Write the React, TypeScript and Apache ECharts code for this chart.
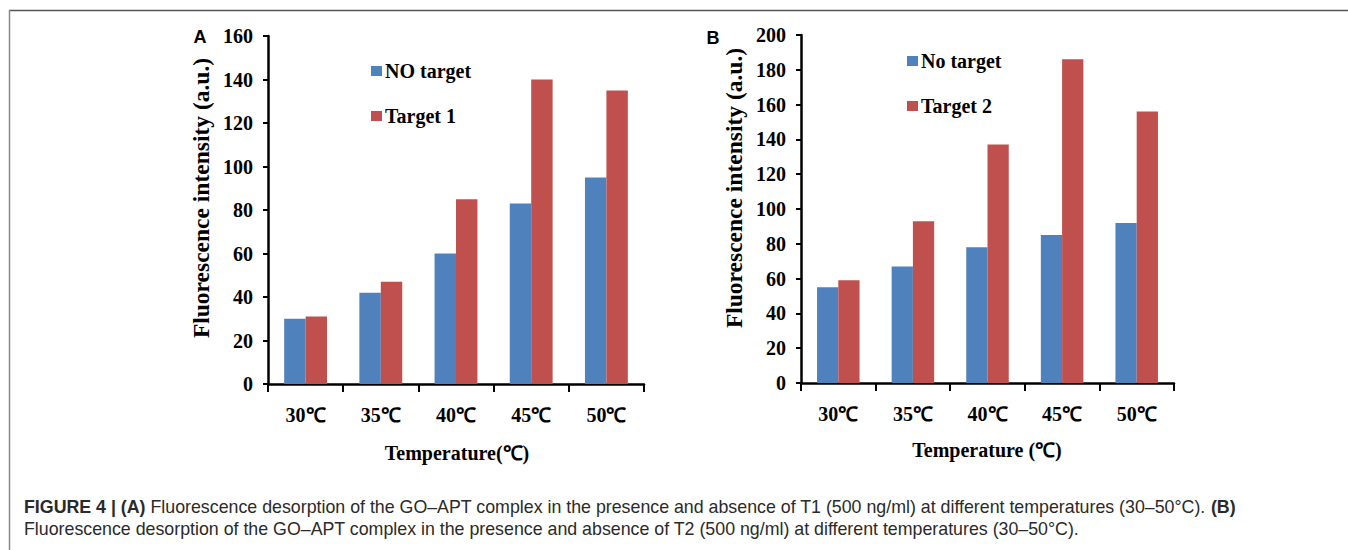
import React, { useEffect, useRef } from "react";
import * as echarts from "echarts";

const categories = ["30℃", "35℃", "40℃", "45℃", "50℃"];
const noTargetA = [30, 42, 60, 83, 95];
const target1 = [31, 47, 85, 140, 135];
const noTargetB = [55, 67, 78, 85, 92];
const target2 = [59, 93, 137, 186, 156];

const BLUE = "#4F81BD";
const RED = "#C0504D";
const SERIF = "'Liberation Serif', 'Times New Roman', serif";
const SANS = "'Liberation Sans', Arial, sans-serif";

export default function App() {
  const ref = useRef<HTMLDivElement>(null);
  useEffect(() => {
    document.body.style.margin = "0";
    const chart = echarts.init(ref.current!, null, { renderer: "svg" });
    const axisLine = { show: true, lineStyle: { color: "#000", width: 2.5 } };
    const xAxisCommon = {
      type: "category" as const,
      data: categories,
      axisLine,
      axisTick: { show: true, length: 8, lineStyle: { color: "#000", width: 2 } },
      axisLabel: { color: "#000", fontFamily: SERIF, fontWeight: "bold", fontSize: 20, margin: 21 },
      splitLine: { show: false },
    };
    const yAxisCommon = {
      type: "value" as const,
      min: 0,
      interval: 20,
      axisLine,
      axisTick: { show: true, length: 5, lineStyle: { color: "#000", width: 2 } },
      axisLabel: { color: "#000", fontFamily: SERIF, fontWeight: "bold", fontSize: 20, margin: 15 },
      splitLine: { show: false },
    };
    const barCommon = {
      type: "bar" as const,
      barGap: "0%",
      barCategoryGap: "43%",
    };
    const legendCommon = {
      orient: "vertical" as const,
      itemWidth: 11,
      itemHeight: 10,
      icon: "rect",
      itemGap: 25,
      padding: 0,
      textStyle: { color: "#000", fontFamily: SERIF, fontWeight: "bold", fontSize: 20, padding: [0, 0, 0, -2] },
    };
    chart.setOption({
      animation: false,
      backgroundColor: "#fff",
      grid: [
        { left: 268, top: 36, width: 376, height: 348 },
        { left: 801, top: 35, width: 373, height: 348 },
      ],
      xAxis: [
        { ...xAxisCommon, gridIndex: 0 },
        { ...xAxisCommon, gridIndex: 1 },
      ],
      yAxis: [
        { ...yAxisCommon, gridIndex: 0, max: 160 },
        { ...yAxisCommon, gridIndex: 1, max: 200 },
      ],
      legend: [
        { ...legendCommon, data: ["NO target", "Target 1"], left: 371, top: 61 },
        { ...legendCommon, data: ["No target", "Target 2"], left: 907, top: 51 },
      ],
      series: [
        { ...barCommon, name: "NO target", data: noTargetA, xAxisIndex: 0, yAxisIndex: 0, itemStyle: { color: BLUE } },
        { ...barCommon, name: "Target 1", data: target1, xAxisIndex: 0, yAxisIndex: 0, itemStyle: { color: RED } },
        { ...barCommon, name: "No target", data: noTargetB, xAxisIndex: 1, yAxisIndex: 1, itemStyle: { color: BLUE } },
        { ...barCommon, name: "Target 2", data: target2, xAxisIndex: 1, yAxisIndex: 1, itemStyle: { color: RED } },
      ],
      graphic: [
        { type: "line", shape: { x1: 9, y1: 10.5, x2: 1348, y2: 10.5 }, style: { stroke: "#555", lineWidth: 1.5 } },
        { type: "line", shape: { x1: 9.5, y1: 10, x2: 9.5, y2: 550 }, style: { stroke: "#888", lineWidth: 1.5 } },
        {
          type: "text", x: 200, y: 37,
          style: { text: "A", fontFamily: SANS, fontWeight: "bold", fontSize: 18, fill: "#000", align: "center", verticalAlign: "middle" },
        },
        {
          type: "text", x: 713, y: 38,
          style: { text: "B", fontFamily: SANS, fontWeight: "bold", fontSize: 18, fill: "#000", align: "center", verticalAlign: "middle" },
        },
        {
          type: "text", x: 201, y: 198, rotation: Math.PI / 2,
          style: { text: "Fluorescence intensity (a.u.)", fontFamily: SERIF, fontWeight: "bold", fontSize: 23.5, fill: "#000", align: "center", verticalAlign: "middle" },
        },
        {
          type: "text", x: 734, y: 188, rotation: Math.PI / 2,
          style: { text: "Fluorescence intensity (a.u.)", fontFamily: SERIF, fontWeight: "bold", fontSize: 23.5, fill: "#000", align: "center", verticalAlign: "middle" },
        },
        {
          type: "text", x: 457, y: 453,
          style: { text: "Temperature(℃)", fontFamily: SERIF, fontWeight: "bold", fontSize: 20, fill: "#000", align: "center", verticalAlign: "middle" },
        },
        {
          type: "text", x: 987, y: 450,
          style: { text: "Temperature (℃)", fontFamily: SERIF, fontWeight: "bold", fontSize: 20, fill: "#000", align: "center", verticalAlign: "middle" },
        },
        {
          type: "text", x: 24, y: 507,
          style: {
            text: "{b|FIGURE 4 | (A)} Fluorescence desorption of the GO–APT complex in the presence and absence of T1 (500 ng/ml) at different temperatures (30–50°C). {b|(B)}",
            fontFamily: SANS, fontSize: 17.8, fill: "#2a2a2a", verticalAlign: "middle",
            rich: { b: { fontFamily: SANS, fontSize: 17.8, fontWeight: "bold", fill: "#2a2a2a" } },
          },
        },
        {
          type: "text", x: 24, y: 529,
          style: {
            text: "Fluorescence desorption of the GO–APT complex in the presence and absence of T2 (500 ng/ml) at different temperatures (30–50°C).",
            fontFamily: SANS, fontSize: 17.8, fill: "#2a2a2a", verticalAlign: "middle",
          },
        },
      ],
    });
    return () => chart.dispose();
  }, []);
  return <div ref={ref} style={{ width: 1348, height: 550 }} />;
}
